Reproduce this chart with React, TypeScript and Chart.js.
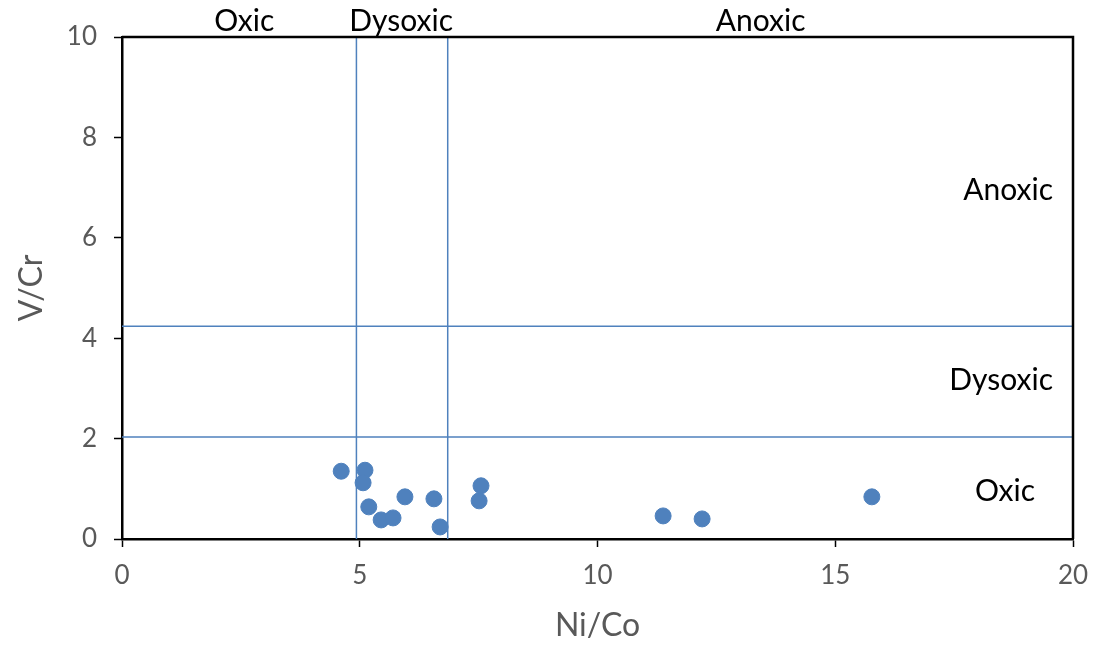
import React, { useEffect, useRef } from "react";
import { Chart, registerables } from "chart.js";

Chart.register(...registerables);

const niCo: number[] = [4.61, 5.11, 5.07, 5.19, 5.45, 5.7, 5.95, 6.56, 6.69, 7.51, 7.55, 11.38, 12.2, 15.77];
const vCr: number[] = [1.35, 1.37, 1.12, 0.64, 0.38, 0.42, 0.84, 0.8, 0.24, 0.76, 1.06, 0.46, 0.4, 0.84];

const niCoLimits: number[] = [4.93, 6.85];
const vCrLimits: number[] = [2.03, 4.24];

const topLabels: string[] = ["Oxic", "Dysoxic", "Anoxic"];
const topLabelX: number[] = [2.57, 5.87, 13.43];
const rightLabels: string[] = ["Anoxic", "Dysoxic", "Oxic"];
const rightLabelY: number[] = [6.95, 3.17, 0.94];
const rightLabelX: number[] = [19.58, 19.58, 19.2];

const FONT = "Lato, 'Liberation Sans', sans-serif";
const BLUE = "#4f81bd";

const annotations = {
  id: "annotations",
  afterDraw(chart: any) {
    const { ctx, chartArea, scales } = chart;
    ctx.save();
    ctx.strokeStyle = "#000";
    ctx.lineWidth = 2.5;
    ctx.beginPath();
    ctx.moveTo(chartArea.left, chartArea.top);
    ctx.lineTo(chartArea.right, chartArea.top);
    ctx.lineTo(chartArea.right, chartArea.bottom);
    ctx.stroke();
    ctx.fillStyle = "#000";
    ctx.font = `30px ${FONT}`;
    ctx.textBaseline = "middle";
    ctx.textAlign = "center";
    topLabels.forEach((t, i) => {
      ctx.fillText(t, scales.x.getPixelForValue(topLabelX[i]), 21);
    });
    ctx.textAlign = "right";
    rightLabels.forEach((t, i) => {
      ctx.fillText(t, scales.x.getPixelForValue(rightLabelX[i]), scales.y.getPixelForValue(rightLabelY[i]));
    });
    ctx.restore();
  },
};

export default function App() {
  const ref = useRef<HTMLCanvasElement>(null);
  useEffect(() => {
    if (!ref.current) return;
    const lineDs = (data: { x: number; y: number }[]) => ({
      type: "line" as const,
      data,
      borderColor: BLUE,
      borderWidth: 1.5,
      pointRadius: 0,
      showLine: true,
      fill: false,
    });
    const datasets: any[] = [
      ...niCoLimits.map((v) => lineDs([{ x: v, y: 0 }, { x: v, y: 10 }])),
      ...vCrLimits.map((v) => lineDs([{ x: 0, y: v }, { x: 20, y: v }])),
      {
        type: "scatter",
        data: niCo.map((x, i) => ({ x, y: vCr[i] })),
        backgroundColor: BLUE,
        borderColor: BLUE,
        pointRadius: 8,
        pointHoverRadius: 8,
      },
    ];
    const chart = new Chart(ref.current, {
      type: "scatter",
      data: { datasets },
      options: {
        animation: false,
        responsive: false,
        events: [],
        layout: { padding: { left: 0, top: 37, right: 23, bottom: 0 } },
        plugins: { legend: { display: false }, tooltip: { enabled: false } },
        scales: {
          x: {
            type: "linear",
            min: 0,
            max: 20,
            afterFit: (s: any) => { s.height = 114; s.paddingLeft = 0; s.paddingRight = 0; },
            ticks: { stepSize: 5, color: "#595959", font: { family: FONT, size: 26 }, padding: 13 },
            grid: { drawOnChartArea: false, tickLength: 8, tickColor: "#000", tickWidth: 1.5 },
            border: { color: "#000", width: 2.5 },
            title: { display: true, text: "Ni/Co", color: "#595959", font: { family: FONT, size: 32 }, padding: { top: 0, bottom: 8 } },
          },
          y: {
            type: "linear",
            min: 0,
            max: 10,
            afterFit: (s: any) => { s.width = 122; s.paddingTop = 0; s.paddingBottom = 0; },
            ticks: { stepSize: 2, color: "#595959", font: { family: FONT, size: 26 }, padding: 17 },
            grid: { drawOnChartArea: false, tickLength: 8, tickColor: "#000", tickWidth: 1.5 },
            border: { color: "#000", width: 2.5 },
            title: { display: true, text: "V/Cr", color: "#595959", font: { family: FONT, size: 32 }, padding: { top: 12, bottom: 0 } },
          },
        },
      },
      plugins: [annotations],
    });
    return () => chart.destroy();
  }, []);
  return (
    <div style={{ position: "fixed", left: 0, top: 0, width: 1096, height: 653, background: "#fff" }}>
      <canvas ref={ref} width={1096} height={653} style={{ width: 1096, height: 653 }} />
    </div>
  );
}
